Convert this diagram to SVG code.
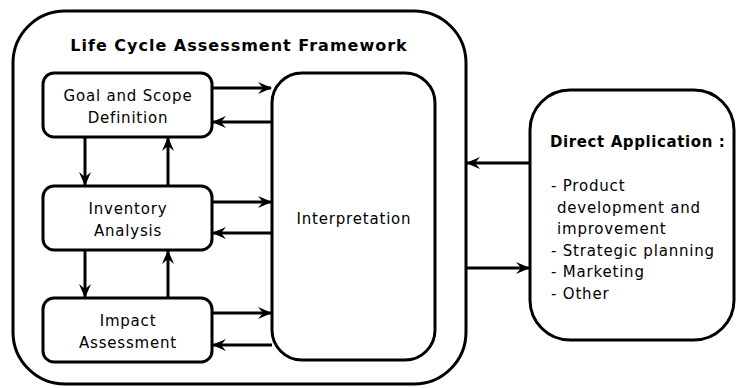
<svg xmlns="http://www.w3.org/2000/svg" width="736" height="388" viewBox="0 0 736 388">
  <defs>
    <marker id="arrow" viewBox="0 0 14 14" refX="13" refY="7" markerWidth="14" markerHeight="14" markerUnits="userSpaceOnUse" orient="auto">
      <path d="M0,1 L14,7 L0,13 L5,7 Z" fill="#000"/>
    </marker>
  </defs>
  <style>
    .box { fill: #fff; stroke: #000; stroke-width: 3; }
    .lbl { font-family: "DejaVu Sans", Verdana, sans-serif; font-size: 15px; letter-spacing: 0.8px; fill: #000; }
    .mid { text-anchor: middle; }
    .bold { font-weight: bold; letter-spacing: 0.6px; }
    .title { font-size: 16px; letter-spacing: 1px; }
    .conn { fill: none; stroke: #000; stroke-width: 3; marker-end: url(#arrow); }
  </style>
  <rect width="736" height="388" fill="#fff"/>

  <!-- outer framework -->
  <g id="framework">
    <rect class="box" x="13" y="11" width="453" height="373" rx="52" ry="52"/>
    <text class="lbl bold title mid" x="239" y="51">Life Cycle Assessment Framework</text>
  </g>

  <g id="goal">
    <rect class="box" x="43" y="73" width="169" height="64" rx="11"/>
    <text class="lbl mid" x="128" y="101">Goal and Scope</text>
    <text class="lbl mid" x="128" y="123">Definition</text>
  </g>

  <g id="inventory">
    <rect class="box" x="43" y="186" width="169" height="64" rx="11"/>
    <text class="lbl mid" x="128" y="214">Inventory</text>
    <text class="lbl mid" x="128" y="236">Analysis</text>
  </g>

  <g id="impact">
    <rect class="box" x="43" y="298" width="169" height="64" rx="11"/>
    <text class="lbl mid" x="128" y="326">Impact</text>
    <text class="lbl mid" x="128" y="348">Assessment</text>
  </g>

  <g id="interpretation">
    <rect class="box" x="272" y="73" width="163" height="287" rx="30"/>
    <text class="lbl mid" x="354" y="224">Interpretation</text>
  </g>

  <g id="direct-application">
    <rect class="box" x="530" y="90" width="204" height="250" rx="40"/>
    <text class="lbl bold" x="550" y="147">Direct Application :</text>
    <text class="lbl" x="551" y="191">- Product</text>
    <text class="lbl" x="557" y="213">development and</text>
    <text class="lbl" x="557" y="234">improvement</text>
    <text class="lbl" x="551" y="256">- Strategic planning</text>
    <text class="lbl" x="551" y="277">- Marketing</text>
    <text class="lbl" x="551" y="299">- Other</text>
  </g>

  <g id="connectors">
    <line class="conn" x1="212" y1="88" x2="271" y2="88"/>
    <line class="conn" x1="272" y1="122" x2="213" y2="122"/>
    <line class="conn" x1="212" y1="202" x2="271" y2="202"/>
    <line class="conn" x1="272" y1="233" x2="213" y2="233"/>
    <line class="conn" x1="212" y1="313" x2="271" y2="313"/>
    <line class="conn" x1="272" y1="345" x2="213" y2="345"/>
    <line class="conn" x1="85" y1="137" x2="85" y2="185"/>
    <line class="conn" x1="168" y1="186" x2="168" y2="138"/>
    <line class="conn" x1="85" y1="250" x2="85" y2="297"/>
    <line class="conn" x1="168" y1="298" x2="168" y2="251"/>
    <line class="conn" x1="530" y1="163" x2="467" y2="163"/>
    <line class="conn" x1="466" y1="268" x2="529" y2="268"/>
  </g>
</svg>
